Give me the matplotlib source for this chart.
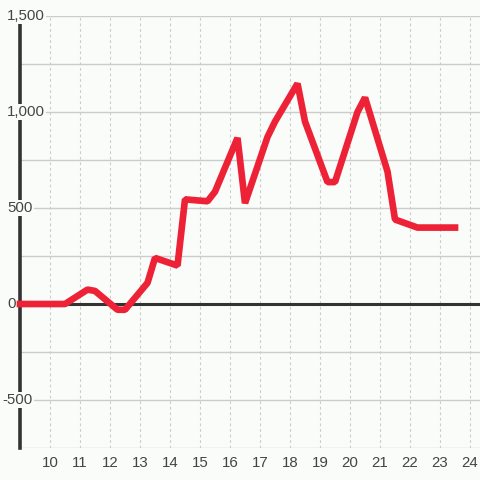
import matplotlib
matplotlib.use("Agg")
import matplotlib.pyplot as plt

# hour of day vs value
hours = [9.0, 10.5, 11.25, 11.5, 12.25, 12.5, 13.25, 13.5, 14.25, 14.5,
         15.25, 15.5, 16.25, 16.5, 17.25, 17.5, 18.25, 18.5, 19.25, 19.5,
         20.25, 20.5, 21.25, 21.5, 22.25, 22.5, 23.25, 23.5]
values = [0, 0, 75, 68, -30, -30, 110, 240, 200, 545,
          535, 585, 865, 525, 870, 950, 1148, 950, 635, 635,
          1000, 1075, 690, 440, 398, 398, 398, 398]

x_ticks = list(range(10, 25))
y_ticks = [-500, 0, 500, 1000, 1500]
y_grid = list(range(-750, 1501, 250))

bg = '#fafcfa'
plt.rcParams['font.family'] = ['Liberation Sans', 'DejaVu Sans']

fig = plt.figure(figsize=(4.8, 4.8), dpi=100, facecolor=bg)
ax = fig.add_axes([20 / 480, 32 / 480, 460 / 480, 432 / 480])
ax.set_facecolor(bg)
ax.set_xlim(9, 24.333)
ax.set_ylim(-750, 1500)

for s in ax.spines.values():
    s.set_visible(False)
ax.set_yticks([])
ax.set_xticks(x_ticks)
ax.tick_params(axis='x', length=0, pad=6, labelsize=10.8, labelcolor='#444')

# grid
for g in y_grid:
    ax.axhline(g, color='#cccccc', lw=1, zorder=1)
for t in x_ticks:
    ax.axvline(t, color='#cccccc', lw=0.8, ls=(0, (2.5, 2.5)), zorder=1)

ax.axhline(0, color='#333333', lw=2.2, zorder=2)
ax.axvline(9, color='#333333', lw=2.6, zorder=2, clip_on=False)

ax.plot(hours, values, color='#ee2236', lw=4.8, solid_joinstyle='bevel',
        solid_capstyle='projecting', zorder=3, clip_on=False)

# y labels sit inside the plot, left-aligned, over the axis line
for v in y_ticks:
    x0 = -13 / 460 if v >= 0 else -18 / 460
    ax.text(x0, v, f'{v:,}', transform=ax.get_yaxis_transform(),
            ha='left', va='center', fontsize=10.8, color='#444',
            bbox=dict(facecolor=bg, edgecolor='none', pad=1.0),
            zorder=2.5, clip_on=False)

fig.savefig('out.png', dpi=100, facecolor=bg)
